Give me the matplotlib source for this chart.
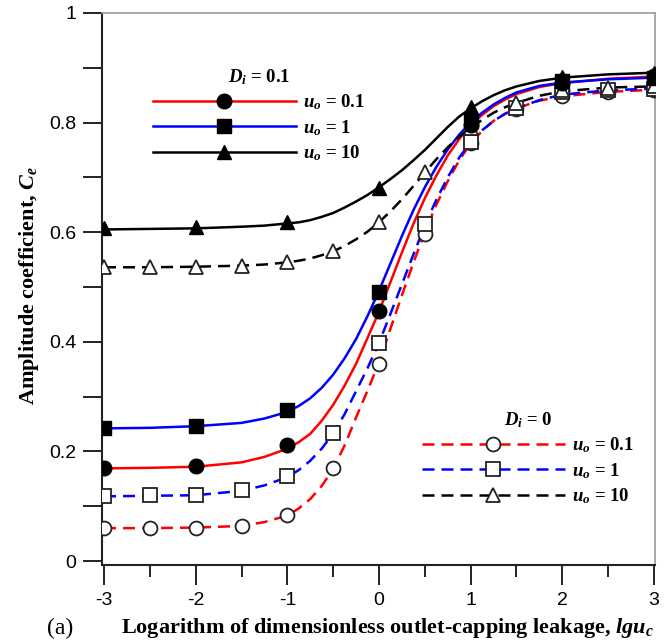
import matplotlib
matplotlib.use("Agg")
import matplotlib.pyplot as plt
from matplotlib.lines import Line2D
from matplotlib.ticker import MultipleLocator

plt.rcParams["mathtext.fontset"] = "custom"
plt.rcParams["mathtext.rm"] = "Liberation Serif:bold"
plt.rcParams["mathtext.it"] = "Liberation Serif:italic:bold"
plt.rcParams["mathtext.bf"] = "Liberation Serif:bold"

# ---- measured points ----
x_d01 = [-3, -2, -1, 0, 1, 2, 3]
ce_d01_u01 = [0.169, 0.173, 0.211, 0.456, 0.796, 0.873, 0.885]
ce_d01_u1 = [0.242, 0.247, 0.276, 0.491, 0.802, 0.875, 0.882]
ce_d01_u10 = [0.607, 0.610, 0.619, 0.680, 0.829, 0.884, 0.891]

x_d0 = [-3, -2.5, -2, -1.5, -1, -0.5, 0, 0.5, 1, 1.5, 2, 2.5, 3]
ce_d0_u01 = [0.060, 0.060, 0.060, 0.064, 0.084, 0.169, 0.360, 0.596, 0.762, 0.825, 0.848, 0.856, 0.860]
ce_d0_u1 = [0.118, 0.120, 0.120, 0.129, 0.156, 0.233, 0.398, 0.615, 0.765, 0.826, 0.855, 0.859, 0.862]
ce_d0_u10 = [0.536, 0.536, 0.537, 0.538, 0.545, 0.565, 0.618, 0.709, 0.790, 0.836, 0.860, 0.864, 0.866]

# ---- model curves ----
x_fit = [-3, -2.5, -2, -1.5, -1.25, -1, -0.875, -0.75, -0.625, -0.5, -0.375, -0.25,
         -0.125, 0, 0.125, 0.25, 0.375, 0.5, 0.625, 0.75, 0.875, 1, 1.125, 1.25,
         1.375, 1.5, 1.75, 2, 2.5, 3]
fit_d01_u01 = [0.169, 0.170, 0.172, 0.180, 0.190, 0.205, 0.217, 0.232, 0.256, 0.285,
               0.320, 0.360, 0.407, 0.455, 0.509, 0.563, 0.615, 0.662, 0.703, 0.740,
               0.770, 0.795, 0.814, 0.830, 0.842, 0.852, 0.865, 0.872, 0.880, 0.884]
fit_d01_u1 = [0.242, 0.243, 0.246, 0.252, 0.260, 0.272, 0.283, 0.297, 0.316, 0.340,
              0.370, 0.405, 0.447, 0.493, 0.543, 0.593, 0.640, 0.682, 0.719, 0.751,
              0.778, 0.800, 0.818, 0.833, 0.845, 0.855, 0.867, 0.873, 0.879, 0.882]
fit_d01_u10 = [0.605, 0.606, 0.607, 0.610, 0.612, 0.616, 0.618, 0.622, 0.628, 0.635,
               0.645, 0.656, 0.668, 0.682, 0.697, 0.713, 0.731, 0.750, 0.771, 0.792,
               0.811, 0.826, 0.839, 0.850, 0.859, 0.866, 0.876, 0.882, 0.888, 0.891]
fit_d0_u01 = [0.060, 0.060, 0.061, 0.064, 0.071, 0.083, 0.096, 0.113, 0.137, 0.168,
              0.211, 0.262, 0.311, 0.362, 0.424, 0.485, 0.544, 0.600, 0.650, 0.693,
              0.731, 0.762, 0.785, 0.803, 0.816, 0.826, 0.840, 0.848, 0.856, 0.860]
fit_d0_u1 = [0.118, 0.119, 0.120, 0.128, 0.138, 0.153, 0.166, 0.183, 0.205, 0.233,
             0.268, 0.310, 0.352, 0.398, 0.451, 0.505, 0.559, 0.612, 0.659, 0.700,
             0.736, 0.765, 0.786, 0.803, 0.816, 0.826, 0.841, 0.851, 0.859, 0.862]
fit_d0_u10 = [0.536, 0.536, 0.537, 0.539, 0.541, 0.545, 0.548, 0.552, 0.558, 0.565,
              0.575, 0.587, 0.601, 0.618, 0.638, 0.660, 0.684, 0.709, 0.733, 0.755,
              0.774, 0.790, 0.805, 0.818, 0.828, 0.836, 0.849, 0.857, 0.864, 0.866]

x_ticks = [-3, -2, -1, 0, 1, 2, 3]
x_tick_labels = ["-3", "-2", "-1", "0", "1", "2", "3"]
y_ticks = [0, 0.2, 0.4, 0.6, 0.8, 1]
y_tick_labels = ["0", "0.2", "0.4", "0.6", "0.8", "1"]
series_labels = [r"$u_o$ = 0.1", r"$u_o$ = 1", r"$u_o$ = 10"]

fig = plt.figure(figsize=(6.68, 6.43), dpi=100)
ax = fig.add_axes([0.1527, 0.1213, 0.8278, 0.8585])
ax.set_xlim(-3.022, 3.011)
ax.set_ylim(-0.0073, 1.0)

lw = 1.8
dash = (4.8, 2.8)
cols = ["#ff0000", "#0000ff", "#000000"]

# solid: D_i = 0.1, dashed: D_i = 0
for fit, c in zip([fit_d01_u01, fit_d01_u1, fit_d01_u10], cols):
    ax.plot(x_fit, fit, color=c, lw=lw, zorder=2)
for fit, c in zip([fit_d0_u01, fit_d0_u1, fit_d0_u10], cols):
    ax.plot(x_fit, fit, color=c, lw=lw, dashes=dash, zorder=2)

filled = [("o", 10.5), ("s", 10.5), ("^", 9.5)]
for ce, (m, ms) in zip([ce_d01_u01, ce_d01_u1, ce_d01_u10], filled):
    ax.plot(x_d01, ce, ls="none", marker=m, ms=ms, color="black", zorder=4)
hollow = [("o", 10), ("s", 10), ("^", 10)]
for ce, (m, ms) in zip([ce_d0_u01, ce_d0_u1, ce_d0_u10], hollow):
    ax.plot(x_d0, ce, ls="none", marker=m, ms=ms, mfc="white", mec="#222222",
            mew=1.3, zorder=3)

# axes styling
ax.set_xticks(x_ticks)
ax.set_xticklabels(x_tick_labels)
ax.xaxis.set_minor_locator(MultipleLocator(0.5))
ax.set_yticks(y_ticks)
ax.set_yticklabels(y_tick_labels)
ax.yaxis.set_minor_locator(MultipleLocator(0.1))
for lab in ax.get_xticklabels() + ax.get_yticklabels():
    lab.set_fontfamily("Liberation Sans")
    lab.set_fontsize(14)
ax.tick_params(axis="x", which="major", direction="out", length=14.4, width=1.4, pad=5)
ax.tick_params(axis="x", which="minor", direction="out", length=8.6, width=1.4)
ax.tick_params(axis="y", which="both", direction="out", length=13.5, width=1.4, pad=5)
ax.tick_params(which="both", color="#222222")
for s in ["left", "bottom"]:
    ax.spines[s].set_linewidth(1.5)
    ax.spines[s].set_color("#222222")
for s in ["top", "right"]:
    ax.spines[s].set_linewidth(1.2)
    ax.spines[s].set_color("#9a9a9a")

ax.set_xlabel(r"Logarithm of dimensionless outlet-capping leakage, $lgu_c$",
              fontfamily="Liberation Serif", fontweight="bold", fontsize=16)
ax.xaxis.set_label_coords(0.517, -0.092)
ax.set_ylabel(r"Amplitude coefficient, $C_e$",
              fontfamily="Liberation Serif", fontweight="bold", fontsize=16)
ax.yaxis.set_label_coords(-0.111, 0.507)
fig.text(60 / 668, 1 - 628 / 643, "(a)", fontfamily="Liberation Serif",
         fontsize=17, ha="center", va="center")

# legends
h_d01 = [Line2D([], [], color=c, lw=lw, marker=m, ms=ms, mfc="black", mec="black")
         for c, (m, ms) in zip(cols, filled)]
h_d0 = [Line2D([], [], color=c, lw=lw, dashes=dash, marker=m, ms=ms, mfc="white",
               mec="#222222", mew=1.3)
        for c, (m, ms) in zip(cols, hollow)]

leg_kw = dict(frameon=False, fontsize=13.5, handlelength=7.6, handletextpad=0.4,
              labelspacing=0.3, borderpad=0, borderaxespad=0, loc="center",
              bbox_transform=fig.transFigure, title_fontsize=13.5)
leg1 = ax.legend(h_d01, series_labels, title=r"$D_i$ = 0.1",
                 bbox_to_anchor=(259 / 668, 1 - 115 / 643), **leg_kw)
ax.add_artist(leg1)
leg2 = ax.legend(h_d0, series_labels, title=r"$D_i$ = 0",
                 bbox_to_anchor=(528 / 668, 1 - 458 / 643), **leg_kw)
for lg in (leg1, leg2):
    for t in lg.get_texts():
        t.set_fontfamily("Liberation Serif")
        t.set_fontweight("bold")
    lg.get_title().set_fontfamily("Liberation Serif")
    lg.get_title().set_fontweight("bold")

fig.savefig("out.png", dpi=100)
